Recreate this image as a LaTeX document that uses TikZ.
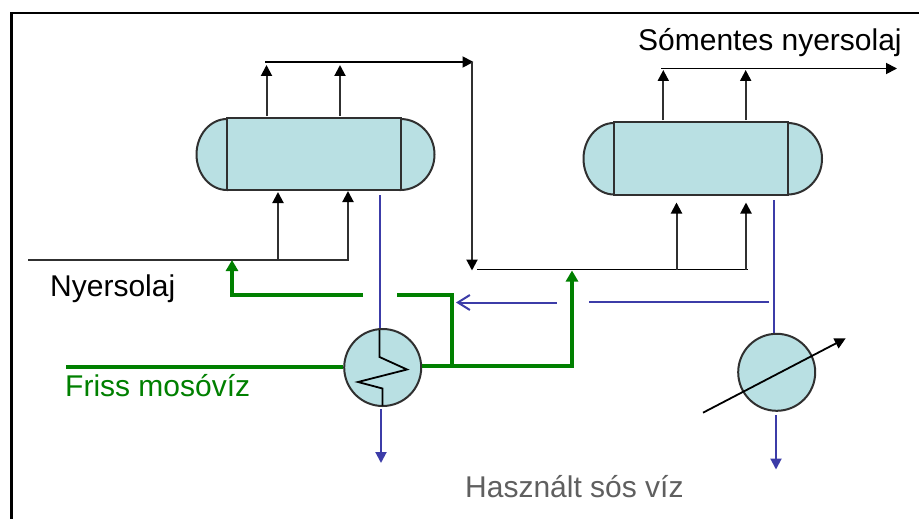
\documentclass[tikz,border=0pt]{standalone}
\usepackage{fontspec}
\setmainfont{Liberation Sans}
\usetikzlibrary{arrows.meta}
\definecolor{vesselfill}{HTML}{B9E0E3}
\definecolor{outl}{HTML}{303030}
\definecolor{washgreen}{HTML}{008000}
\definecolor{brine}{HTML}{3C3CA8}
\definecolor{grayt}{HTML}{5F5F5F}
\tikzset{
  vessel/.style={draw=outl,fill=vesselfill,line width=2pt,minimum width=173.5pt,inner sep=0pt},
  vesselcap/.style={draw=outl,fill=vesselfill,line width=2pt},
  hxnode/.style={circle,draw=outl,fill=vesselfill,line width=2pt,minimum size=77pt,inner sep=0pt},
  oilline/.style={draw=outl,line width=2pt},
  oilarrow/.style={oilline,-{Triangle[length=11pt,width=11pt,color=black]}},
  blackline/.style={draw=black,line width=1.8pt},
  washline/.style={draw=washgreen,line width=4pt},
  washarrow/.style={washline,-{Triangle[length=11pt,width=12pt]}},
  brineline/.style={draw=brine,line width=2pt},
  brinearrow/.style={brineline,-{Triangle[length=11pt,width=11pt]}},
  txtlabel/.style={anchor=base west,inner sep=0pt,font=\fontsize{30pt}{34pt}\selectfont},
}
\begin{document}
\begin{tikzpicture}[x=1pt,y=-1pt]
\useasboundingbox (0,0) rectangle (919,519);
\fill[white] (0,0) rectangle (919,519);
\draw[black,line width=2.4pt] (11.5,519) -- (11.5,13) -- (919,13);

% vessels
\draw[vesselcap] (227,119) .. controls (210.2,119) and (196.5,134.9) .. (196.5,154.5) .. controls (196.5,174.1) and (210.2,190) .. (227,190) -- cycle;
\draw[vesselcap] (400.5,119) .. controls (419.3,119) and (434.5,134.9) .. (434.5,154.5) .. controls (434.5,174.1) and (419.3,190) .. (400.5,190) -- cycle;
\node[vessel,minimum height=72.5pt] (v1) at (313.75,154) {};
\draw[vesselcap] (614,123) .. controls (597.2,123) and (583.5,139) .. (583.5,158.7) .. controls (583.5,178.4) and (597.2,194.5) .. (614,194.5) -- cycle;
\draw[vesselcap] (787.5,123) .. controls (806.7,123) and (822,139) .. (822,158.7) .. controls (822,178.4) and (806.7,194.5) .. (787.5,194.5) -- cycle;
\node[vessel,minimum height=73pt] (v2) at (700.75,158) {};

% exchangers
\coordinate (b1top) at (379.5,195);
\coordinate (b1hx) at (379.5,330);
\coordinate (b2top) at (774,200);
\coordinate (b2hx) at (774,334);
\draw[brineline] (b1top) -- (b1hx);
\draw[brineline] (b2top) -- (b2hx);
\node[hxnode] (hx1) at (382.7,367.5) {};
\node[hxnode] (hx2) at (776.7,372.3) {};

% coil in hx1
\coordinate (z0) at (379.5,330);
\coordinate (z1) at (379.5,357);
\coordinate (z2) at (407,369.5);
\coordinate (z3) at (358,382);
\coordinate (z4) at (382.5,388.5);
\coordinate (z5) at (382.5,405.5);
\draw[blackline] (z0) -- (z1) -- (z2) -- (z3) -- (z4) -- (z5);

% crude oil, first stage
\coordinate (in1) at (28,259.5);
\coordinate (in2) at (349,259.5);
\coordinate (r1a) at (278,259.5);
\coordinate (r1b) at (278,192);
\coordinate (r2a) at (348,259.5);
\coordinate (r2b) at (348,191);
\draw[oilline] (in1) -- (in2);
\draw[oilarrow] (r1a) -- (r1b);
\draw[oilarrow] (r2a) -- (r2b);
\coordinate (u1a) at (266.5,116);
\coordinate (u1b) at (266.5,65);
\coordinate (u2a) at (340,116);
\coordinate (u2b) at (340,65);
\draw[oilarrow] (u1a) -- (u1b);
\draw[oilarrow] (u2a) -- (u2b);

% transfer line
\coordinate (t1) at (265,62);
\coordinate (t2) at (473.5,62);
\coordinate (t3) at (472,62);
\coordinate (t4) at (472,270.5);
\draw[blackline,-{Triangle[length=11pt,width=11pt]}] (t1) -- (t2);
\draw[oilarrow] (t3) -- (t4);

% crude oil, second stage
\coordinate (c1) at (477,269.5);
\coordinate (c2) at (748,269.5);
\draw[blackline] (c1) -- (c2);
\coordinate (r3a) at (676.5,269.5);
\coordinate (r3b) at (676.5,202.5);
\coordinate (r4a) at (746,269.5);
\coordinate (r4b) at (746,202.5);
\draw[oilarrow] (r3a) -- (r3b);
\draw[oilarrow] (r4a) -- (r4b);
\coordinate (u3a) at (663.3,120);
\coordinate (u3b) at (663.3,70);
\coordinate (u4a) at (745.7,120);
\coordinate (u4b) at (745.7,70);
\draw[oilarrow] (u3a) -- (u3b);
\draw[oilarrow] (u4a) -- (u4b);
\coordinate (o1) at (661,68.5);
\coordinate (o2) at (897,68.5);
\draw[blackline,-{Triangle[length=11pt,width=11pt]}] (o1) -- (o2);

% fresh wash water
\coordinate (f0) at (66,367.3);
\coordinate (g1) at (572,365.5);
\coordinate (g2) at (572,270.5);
\coordinate (j1) at (452,365.5);
\coordinate (j2) at (452,294.5);
\coordinate (j3) at (397,294.5);
\coordinate (j4) at (363,294.5);
\coordinate (j5) at (232,294.5);
\coordinate (j6) at (232,260);
\draw[washline] (f0) -- (f0-|hx1.west);
\draw[washarrow,line join=miter] (hx1.east|-g1) -- (g1) -- (g2);
\draw[washline,line join=miter] (j1) -- (j2) -- (j3);
\draw[washarrow,line join=miter] (j4) -- (j5) -- (j6);

% brine
\coordinate (br1) at (769,302.3);
\coordinate (br2) at (588.7,302.3);
\coordinate (br3) at (556.7,302.5);
\coordinate (br4) at (456,302.5);
\draw[brineline] (br1) -- (br2);
\draw[brineline,-{Straight Barb[length=12pt,width=15pt]}] (br3) -- (br4);
\coordinate (d1a) at (381,409);
\coordinate (d1b) at (381,463);
\coordinate (d2a) at (776,415);
\coordinate (d2b) at (776,469.5);
\draw[brinearrow] (d1a) -- (d1b);
\draw[brinearrow] (d2a) -- (d2b);

% cooler control arrow
\coordinate (k1) at (703,412.7);
\coordinate (k2) at (845.7,338.3);
\draw[blackline,-{Triangle[length=11pt,width=11pt]}] (k1) -- (k2);

% labels
\node[txtlabel] (l1) at (638,50.7) {Sómentes nyersolaj};
\node[txtlabel] (l2) at (50,296) {Nyersolaj};
\node[txtlabel,text=washgreen] (l3) at (65,396.7) {Friss mosóvíz};
\node[txtlabel,text=grayt] (l4) at (465,497) {Használt sós víz};
\end{tikzpicture}
\end{document}
